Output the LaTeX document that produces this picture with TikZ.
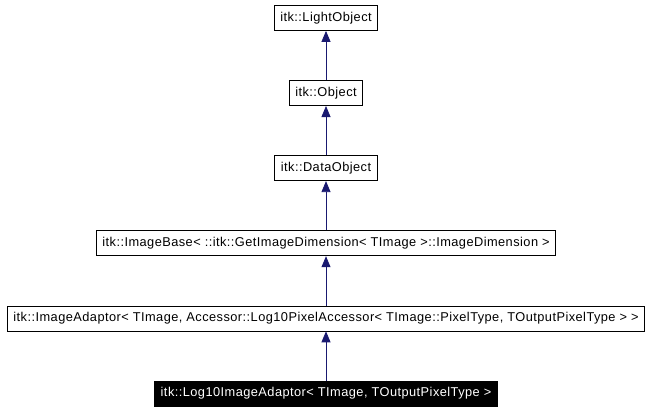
\documentclass[tikz,border=0pt]{standalone}
\usepackage{fontspec}
\setmainfont{Liberation Sans}[LetterSpace=3.5]
\usepackage{xcolor}
\usetikzlibrary{positioning,arrows.meta}

\definecolor{inherit}{RGB}{25,25,112}

\begin{document}
\begin{tikzpicture}[
    x=1pt, y=-1pt,
    node distance=49.3pt,
    cls/.style={draw, line width=0.8pt, minimum height=25pt, inner xsep=6pt,
                font=\fontsize{12.8}{14}\selectfont},
    me/.style={cls, fill=black, text=white},
    inh/.style={{Triangle[length=11pt,width=9pt]}-, draw=inherit, fill=inherit, line width=0.8pt},
  ]
  \useasboundingbox (0,0) rectangle (652,415);
  % the class itself
  \node[me] (log) at (326,393.5) {itk::Log10ImageAdaptor< TImage, TOutputPixelType >};
  % its bases, bottom up
  \node[cls, above=of log]  (adaptor) {itk::ImageAdaptor< TImage, Accessor::Log10PixelAccessor< TImage::PixelType, TOutputPixelType > >};
  \node[cls, above=of adaptor] (base) {itk::ImageBase< ::itk::GetImageDimension< TImage >::ImageDimension >};
  \node[cls, above=of base] (data) {itk::DataObject};
  \node[cls, above=of data] (obj)  {itk::Object};
  \node[cls, above=of obj]  (light) {itk::LightObject};

  \draw[inh] (light.south) -- (obj.north);
  \draw[inh] (obj.south) -- (data.north);
  \draw[inh] (data.south) -- (base.north);
  \draw[inh] (base.south) -- (adaptor.north);
  \draw[inh] (adaptor.south) -- (log.north);
\end{tikzpicture}
\end{document}
